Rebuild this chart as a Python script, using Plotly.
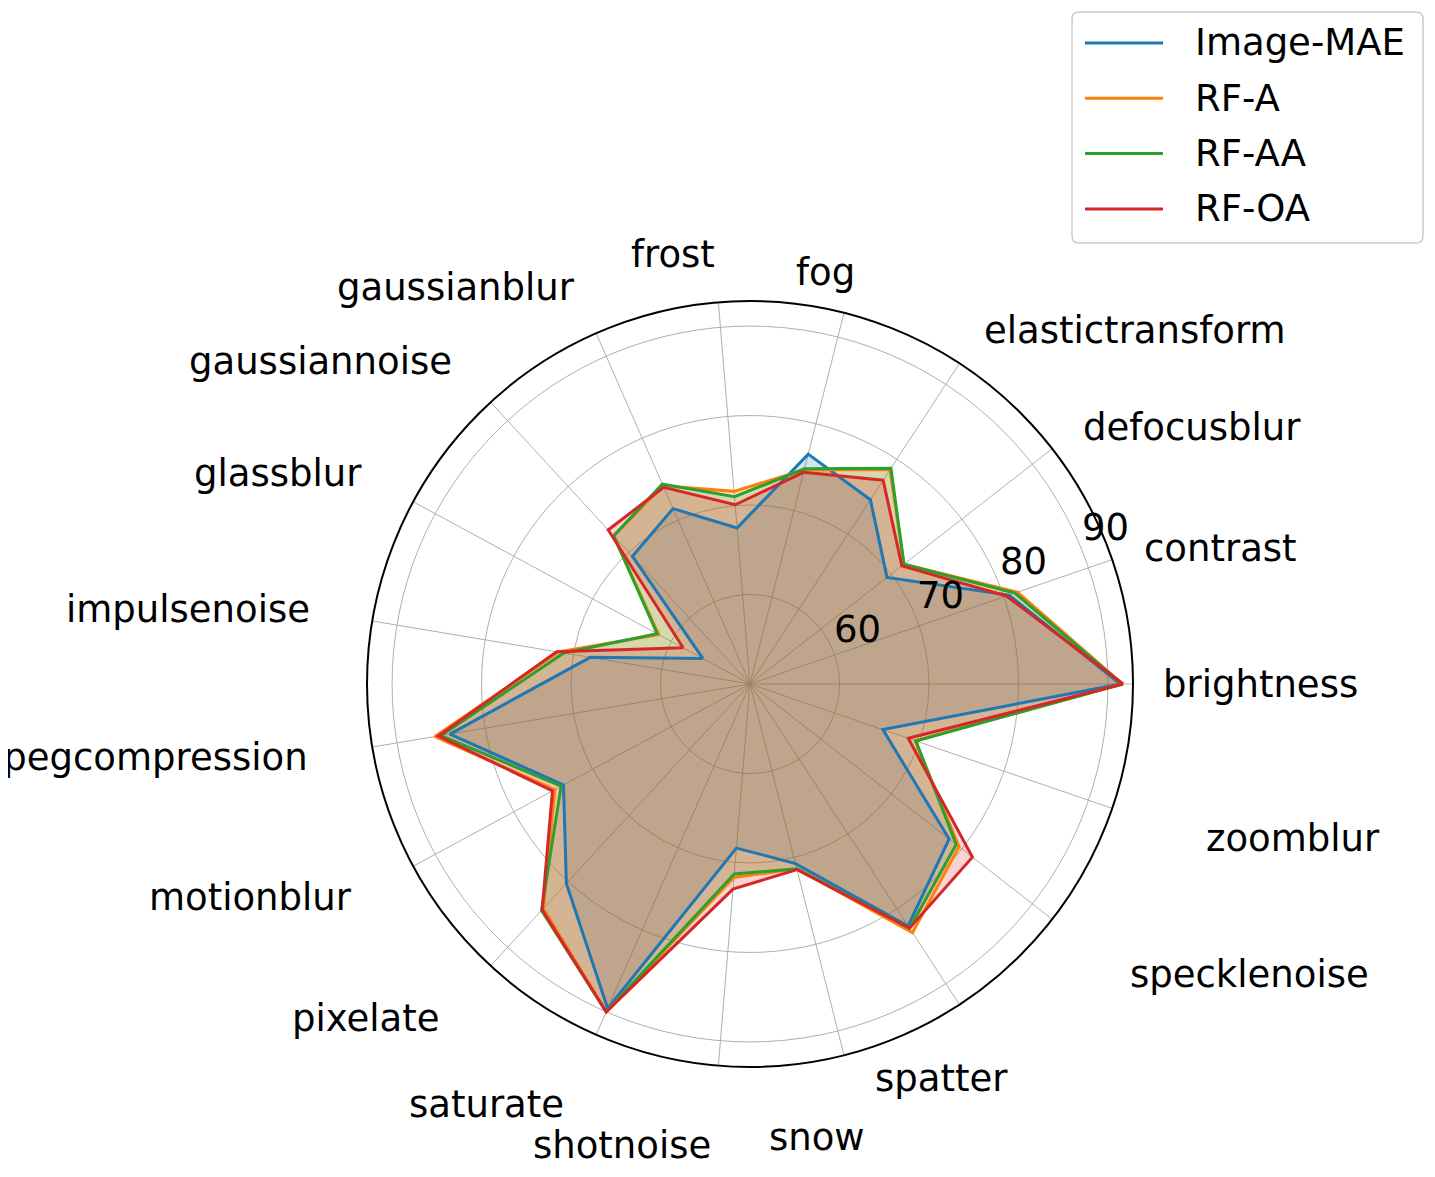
import math
import plotly.graph_objects as go

categories = ["brightness", "contrast", "defocusblur", "elastictransform", "fog", "frost",
              "gaussianblur", "gaussiannoise", "glassblur", "impulsenoise", "jpegcompression",
              "motionblur", "pixelate", "saturate", "shotnoise", "snow", "spatter",
              "specklenoise", "zoomblur"]

image_mae = [91.4, 80.6, 69.4, 74.6, 76.5, 67.5, 71.4, 69.4, 56.0, 68.1, 84.0, 73.7, 80.3, 89.6, 68.4, 70.7, 82.3, 78.2, 65.7]
rf_a = [91.6, 81.6, 71.8, 78.6, 74.7, 71.6, 74.2, 72.5, 61.6, 71.7, 85.7, 74.8, 84.1, 90.0, 71.7, 71.3, 83.2, 79.6, 69.5]
rf_aa = [91.6, 81.3, 71.8, 78.8, 74.8, 71.0, 74.4, 72.5, 61.8, 71.1, 85.0, 74.0, 84.4, 90.0, 71.3, 71.3, 82.6, 79.2, 69.6]
rf_oa = [91.7, 80.3, 71.5, 77.2, 74.4, 70.1, 74.0, 73.4, 58.5, 71.9, 85.3, 75.1, 84.3, 90.0, 73.0, 71.4, 82.6, 81.5, 68.7]

r_ticks = [60, 70, 80, 90]
r_min, r_max = 50, 92.8

names = ["Image-MAE", "RF-A", "RF-AA", "RF-OA"]
colors = ["#1f77b4", "#ff7f0e", "#2ca02c", "#d62728"]
fills = ["rgba(31,119,180,0.2)", "rgba(255,127,14,0.2)", "rgba(44,160,44,0.2)", "rgba(214,39,40,0.2)"]
values = [image_mae, rf_a, rf_aa, rf_oa]

W, H = 1435, 1177
PAGE = 8  # body margin of the html page
FONT = "DejaVu Sans"

def px(x):
    return (x - PAGE) / W

def py(y):
    return 1 - (y - PAGE) / H

# polar area: centre and outer radius in screen pixels
cx, cy, R = 750, 684, 383

# where matplotlib put the category labels (text centres, in pixels)
label_xy = [(1260, 684), (1220, 548), (1192, 427), (1135, 330), (825, 272), (673, 255),
            (456, 287), (320, 361), (278, 473), (188, 609), (150, 757), (250, 897),
            (366, 1018), (486, 1104), (622, 1145), (817, 1137), (941, 1078), (1249, 975),
            (1293, 838)]

fig = go.Figure()
# fills first (under every line), then lines
for vals, fcol in zip(values, fills):
    fig.add_trace(go.Scatterpolar(
        r=vals + vals[:1], theta=categories + categories[:1],
        mode="lines", fill="toself", fillcolor=fcol,
        line=dict(width=0), showlegend=False, hoverinfo="skip"))
for name, vals, col in zip(names, values, colors):
    fig.add_trace(go.Scatterpolar(
        r=vals + vals[:1], theta=categories + categories[:1],
        mode="lines", name=name, line=dict(color=col, width=3), showlegend=False))

annotations = []
for cat, (x, y) in zip(categories, label_xy):
    annotations.append(dict(text=cat, x=px(x), y=py(y), xref="paper", yref="paper",
                            xanchor="center", yanchor="middle", showarrow=False,
                            font=dict(family=FONT, size=37, color="black")))

# radial labels, upright, beside the 22.5 deg direction like matplotlib
ang = math.radians(22.5)
for t in r_ticks:
    rp = (t - r_min) / (r_max - r_min) * R
    annotations.append(dict(text=str(t), x=px(cx + rp * math.cos(ang) + 25),
                            y=py(cy - rp * math.sin(ang) - 20), xref="paper", yref="paper",
                            xanchor="center", yanchor="middle", showarrow=False,
                            font=dict(family=FONT, size=37, color="black")))

# legend box drawn by hand to look like the matplotlib one
shapes = []
x0, x1, y0, y1, rr = 1072, 1423, 12, 243, 7
path = (f"M{px(x0 + rr)},{py(y0)} L{px(x1 - rr)},{py(y0)} Q{px(x1)},{py(y0)} {px(x1)},{py(y0 + rr)} "
        f"L{px(x1)},{py(y1 - rr)} Q{px(x1)},{py(y1)} {px(x1 - rr)},{py(y1)} "
        f"L{px(x0 + rr)},{py(y1)} Q{px(x0)},{py(y1)} {px(x0)},{py(y1 - rr)} "
        f"L{px(x0)},{py(y0 + rr)} Q{px(x0)},{py(y0)} {px(x0 + rr)},{py(y0)} Z")
shapes.append(dict(type="path", path=path, xref="paper", yref="paper",
                   line=dict(color="#cccccc", width=1.5), fillcolor="white"))
for i, (name, col) in enumerate(zip(names, colors)):
    ly = 43 + i * 55.3
    shapes.append(dict(type="line", xref="paper", yref="paper",
                       x0=px(1085), x1=px(1163), y0=py(ly), y1=py(ly),
                       line=dict(color=col, width=3)))
    annotations.append(dict(text=name, x=px(1193), y=py(ly), xref="paper", yref="paper",
                            xanchor="left", yanchor="middle", showarrow=False,
                            font=dict(family=FONT, size=37, color="black")))

fig.update_layout(
    width=W, height=H,
    margin=dict(l=0, r=0, t=0, b=0),
    paper_bgcolor="white",
    font=dict(family=FONT, size=37, color="black"),
    showlegend=False,
    polar=dict(
        domain=dict(x=[px(cx - R), px(cx + R)], y=[py(cy + R), py(cy - R)]),
        bgcolor="white",
        angularaxis=dict(type="category", rotation=0, direction="counterclockwise",
                         showline=True, linecolor="black", linewidth=2,
                         gridcolor="#b0b0b0", gridwidth=1.4,
                         ticks="", showticklabels=False),
        radialaxis=dict(range=[r_min, r_max], tickvals=r_ticks, angle=22.5,
                        showticklabels=False, showline=False, ticks="",
                        gridcolor="#b0b0b0", gridwidth=1.4),
    ),
    shapes=shapes,
    annotations=annotations,
)

fig.write_html("out.html")
